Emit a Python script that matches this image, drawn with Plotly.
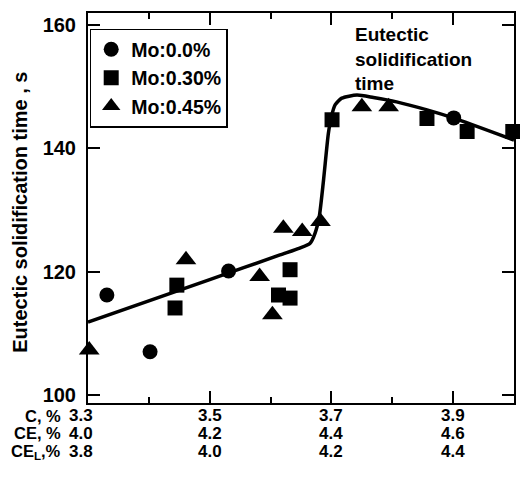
import plotly.graph_objects as go

# ---- data ----
mo0_c = [3.331, 3.402, 3.531, 3.901]
mo0_t = [116.2, 107.0, 120.1, 144.9]

mo30_c = [3.443, 3.446, 3.613, 3.632, 3.632, 3.701, 3.857, 3.923, 3.998]
mo30_t = [114.1, 117.8, 116.2, 115.7, 120.3, 144.6, 144.8, 142.7, 142.7]

mo45_c = [3.302, 3.461, 3.582, 3.603, 3.621, 3.652, 3.682, 3.750, 3.794]
mo45_t = [107.3, 121.9, 119.2, 113.0, 127.0, 126.5, 128.1, 146.7, 146.7]

fit_c = [3.3, 3.5, 3.6155, 3.648, 3.665, 3.673, 3.680, 3.687, 3.695, 3.700,
         3.706, 3.717, 3.742, 3.769, 3.807, 3.857, 3.900, 4.0]
fit_t = [111.8, 118.7, 122.7, 123.8, 124.6, 126.2, 128.9, 134.8, 142.4, 145.1,
         147.0, 148.1, 148.6, 148.2, 147.5, 146.2, 144.9, 141.3]

series_names = ["Mo:0.0%", "Mo:0.30%", "Mo:0.45%"]

x_major = [3.3, 3.5, 3.7, 3.9]
x_minor = [3.4, 3.6, 3.8]
c_labels = ["3.3", "3.5", "3.7", "3.9"]
ce_labels = ["4.0", "4.2", "4.4", "4.6"]
cel_labels = ["3.8", "4.0", "4.2", "4.4"]
row_titles = ["C, %", "CE, %", "CE<sub>L</sub>,%"]
y_ticks = [100, 120, 140, 160]

FONT = "Liberation Sans, Arial, sans-serif"

fig = go.Figure()

fig.add_trace(go.Scatter(x=fit_c, y=fit_t, mode="lines",
                         line=dict(color="black", width=3.5, shape="spline", smoothing=0.6),
                         showlegend=False, hoverinfo="skip", cliponaxis=False))

fig.add_trace(go.Scatter(x=mo0_c, y=mo0_t, mode="markers", name=series_names[0],
                         marker=dict(symbol="circle", size=15, color="black"),
                         cliponaxis=False))
fig.add_trace(go.Scatter(x=mo30_c, y=mo30_t, mode="markers", name=series_names[1],
                         marker=dict(symbol="square", size=15, color="black"),
                         cliponaxis=False))
fig.add_trace(go.Scatter(x=mo45_c, y=mo45_t, mode="markers", name=series_names[2],
                         marker=dict(symbol="triangle-up", size=18, color="black"),
                         cliponaxis=False))

annotations = []
rows = [c_labels, ce_labels, cel_labels]
row_y = [-0.033, -0.078, -0.125]
for labels, yy, title in zip(rows, row_y, row_titles):
    for i, (xv, lab) in enumerate(zip(x_major, labels)):
        annotations.append(dict(x=xv, y=yy, xref="x", yref="paper", text=lab,
                                showarrow=False, xanchor="center", yanchor="middle",
                                xshift=-7 if i == 0 else 0, borderpad=0,
                                font=dict(family=FONT, size=17, color="black", weight="bold")))
    annotations.append(dict(x=x_major[0], y=yy, xref="x", yref="paper", text=title,
                            showarrow=False, xanchor="right", yanchor="middle", xshift=-26,
                            borderpad=0,
                            font=dict(family=FONT, size=16.5, color="black", weight="bold")))

annotations.append(dict(x=-0.16, y=0.49, xref="paper", yref="paper",
                        text="Eutectic solidification time , s", textangle=-90,
                        showarrow=False, xanchor="center", yanchor="middle",
                        font=dict(family=FONT, size=20, color="black", weight="bold")))

annotations.append(dict(x=3.7354, y=0.977, xref="x", yref="paper",
                        text="Eutectic<br>solidification<br>time", align="left",
                        showarrow=False, xanchor="left", yanchor="top",
                        font=dict(family=FONT, size=19, color="black", weight="bold")))

fig.update_layout(
    width=520, height=481,
    margin=dict(l=88, r=6, t=13, b=78, autoexpand=False),
    paper_bgcolor="white", plot_bgcolor="white",
    font=dict(family=FONT, size=18, color="black", weight="bold"),
    annotations=annotations,
    legend=dict(x=0.004, y=0.96, xanchor="left", yanchor="top",
                bordercolor="black", borderwidth=1.5, bgcolor="white",
                font=dict(family=FONT, size=19.5, color="black", weight="bold"),
                tracegroupgap=0, itemwidth=30),
    xaxis=dict(range=[3.3, 4.0], tickvals=x_major, showticklabels=False,
               ticks="inside", ticklen=12, tickwidth=2, tickcolor="black",
               showline=True, linewidth=2, linecolor="black", mirror="ticks",
               showgrid=False, zeroline=False, automargin=False,
               minor=dict(tickvals=x_minor, ticks="inside", ticklen=6,
                          tickwidth=2, tickcolor="black", showgrid=False)),
    yaxis=dict(range=[98.7, 161.9], tickvals=y_ticks,
               ticks="inside", ticklen=12, tickwidth=2, tickcolor="black",
               showline=True, linewidth=2, linecolor="black", mirror="ticks",
               showgrid=False, zeroline=False, ticklabelstandoff=6, automargin=False,
               tickfont=dict(family=FONT, size=20, color="black", weight="bold")),
)

fig.write_html("out.html", config={"displayModeBar": False},
               post_script="document.body.style.margin='0';")
